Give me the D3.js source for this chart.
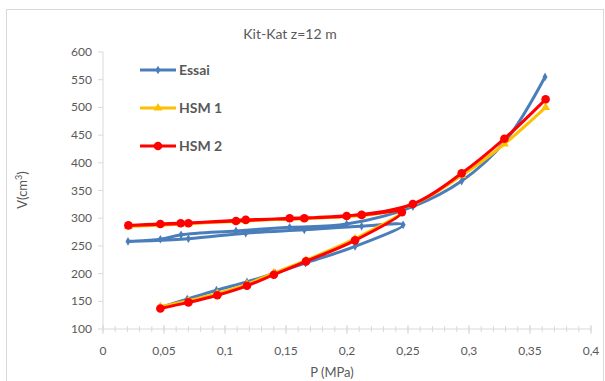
<!DOCTYPE html>
<html>
<head>
<meta charset="utf-8">
<script src="https://cdn.jsdelivr.net/npm/d3@7"></script>
<style>
  body { margin: 0; background: #fff; }
  text { font-family: Lato, "Open Sans", sans-serif; fill: #595959; }
</style>
</head>
<body>
<div id="chart"></div>
<script>
// Essai : loading, unloading, reloading
let essaiP = [0.047, 0.069, 0.093, 0.118, 0.141, 0.166, 0.2066, 0.246,
  0.212, 0.165, 0.117, 0.07, 0.0205,
  0.047, 0.064, 0.109, 0.153, 0.1997, 0.254, 0.294, 0.33, 0.3623]
let essaiV = [139, 154, 170, 185, 201, 219, 249, 288,
  285.5, 279, 273, 263, 258,
  262, 270, 277, 283.5, 289.5, 321, 367, 440, 555]

let hsm1P = [0.047, 0.07, 0.0937, 0.118, 0.14, 0.1664, 0.2066, 0.245,
  0.212, 0.165, 0.117, 0.07, 0.0208,
  0.047, 0.0637, 0.109, 0.153, 0.1997, 0.254, 0.294, 0.329, 0.3628]
let hsm1V = [140, 151, 164, 181, 201, 224, 263, 312,
  305, 299, 296, 290, 285,
  288.5, 290, 294, 299, 303.5, 325, 377, 434, 500]

let hsm2P = [0.047, 0.07, 0.0937, 0.118, 0.14, 0.1664, 0.2066, 0.245,
  0.212, 0.165, 0.117, 0.07, 0.0208,
  0.047, 0.0637, 0.109, 0.153, 0.1997, 0.254, 0.294, 0.329, 0.3628]
let hsm2V = [137, 148, 161, 178, 198, 222, 260, 311,
  306, 300, 297, 291, 287,
  289.6, 291, 295, 300, 304, 325.6, 381, 443.5, 514.6]

let seriesNames = ['Essai', 'HSM 1', 'HSM 2']
let seriesColors = ['#4a7ebb', '#ffc000', '#ff0000']

let xTicks = [0, 0.05, 0.1, 0.15, 0.2, 0.25, 0.3, 0.35, 0.4]
let xMinor = d3.range(0, 0.4001, 0.01)
let yTicks = [100, 150, 200, 250, 300, 350, 400, 450, 500, 550, 600]

let W = 605
let H = 381

let svg = d3
  .select('#chart')
  .append('svg')
  .attr('width', W)
  .attr('height', H)

// chart area border
svg
  .append('rect')
  .attr('x', 6.5)
  .attr('y', 9.5)
  .attr('width', 597)
  .attr('height', 400)
  .attr('fill', 'none')
  .attr('stroke', '#d9d9d9')

let xScale = d3.scaleLinear().domain([0, 0.4]).range([103, 591])
let yScale = d3.scaleLinear().domain([100, 600]).range([329, 52])

let comma = d3.formatLocale({ decimal: ',', thousands: ' ', grouping: [3], currency: ['', ''] })
let fmt = d => comma.format('~g')(d)

// x axis
let xAxis = svg.append('g').attr('transform', 'translate(0,' + yScale(100) + ')')
xAxis
  .append('line')
  .attr('x1', xScale(0))
  .attr('x2', xScale(0.4))
  .attr('stroke', '#d9d9d9')
xAxis
  .selectAll('.minor')
  .data(xMinor)
  .enter()
  .append('line')
  .attr('x1', d => xScale(d))
  .attr('x2', d => xScale(d))
  .attr('y1', -3)
  .attr('y2', 3)
  .attr('stroke', '#d9d9d9')
xAxis
  .selectAll('.major')
  .data(xTicks)
  .enter()
  .append('line')
  .attr('x1', d => xScale(d))
  .attr('x2', d => xScale(d))
  .attr('y1', -4)
  .attr('y2', 5)
  .attr('stroke', '#d9d9d9')
xAxis
  .selectAll('.xlabel')
  .data(xTicks)
  .enter()
  .append('text')
  .attr('x', d => xScale(d))
  .attr('y', 26)
  .attr('text-anchor', 'middle')
  .style('font-size', '12px')
  .text(d => fmt(d))

// y axis
let yAxis = svg.append('g').attr('transform', 'translate(' + xScale(0) + ',0)')
yAxis
  .append('line')
  .attr('y1', yScale(100))
  .attr('y2', yScale(600))
  .attr('stroke', '#d9d9d9')
yAxis
  .selectAll('.ytick')
  .data(yTicks)
  .enter()
  .append('line')
  .attr('x1', -5)
  .attr('x2', 0)
  .attr('y1', d => yScale(d))
  .attr('y2', d => yScale(d))
  .attr('stroke', '#d9d9d9')
yAxis
  .selectAll('.ylabel')
  .data(yTicks)
  .enter()
  .append('text')
  .attr('x', -11)
  .attr('y', d => yScale(d) + 4)
  .attr('text-anchor', 'end')
  .style('font-size', '12px')
  .text(d => d)

// titles
svg
  .append('text')
  .attr('x', 290)
  .attr('y', 39)
  .attr('text-anchor', 'middle')
  .style('font-size', '14px')
  .text('Kit-Kat z=12 m')

svg
  .append('text')
  .attr('x', 332)
  .attr('y', 377)
  .attr('text-anchor', 'middle')
  .style('font-size', '13px')
  .text('P (MPa)')

let yTitle = svg
  .append('text')
  .attr('transform', 'translate(27,190) rotate(-90)')
  .attr('text-anchor', 'middle')
  .style('font-size', '13px')
yTitle.append('tspan').text('V(cm')
yTitle.append('tspan').attr('dy', -5).style('font-size', '9px').text('3')
yTitle.append('tspan').attr('dy', 5).text(')')

let line = d3
  .line()
  .x(d => xScale(d[0]))
  .y(d => yScale(d[1]))
  .curve(d3.curveCatmullRom.alpha(0.5))

let allSeries = [
  d3.zip(essaiP, essaiV),
  d3.zip(hsm1P, hsm1V),
  d3.zip(hsm2P, hsm2V)
]

let diamond = d3.symbol().type(d3.symbolDiamond).size(22)
let triangle = d3.symbol().type(d3.symbolTriangle).size(34)
let markers = [
  g => g.append('path').attr('d', diamond),
  g => g.append('path').attr('d', triangle),
  g => g.append('circle').attr('r', 4.3)
]

allSeries.forEach((pts, i) => {
  svg
    .append('path')
    .datum(pts)
    .attr('d', line)
    .attr('fill', 'none')
    .attr('stroke', seriesColors[i])
    .attr('stroke-width', 3)
    .attr('stroke-linejoin', 'round')

  pts.forEach(p => {
    let g = svg
      .append('g')
      .attr('transform', `translate(${xScale(p[0])},${yScale(p[1])})`)
      .attr('fill', seriesColors[i])
    markers[i](g)
  })
})

// legend
let legend = svg
  .selectAll('.legend')
  .data(seriesNames)
  .enter()
  .append('g')
  .attr('transform', (d, i) => 'translate(140,' + [70, 108, 146][i] + ')')

legend
  .append('line')
  .attr('x1', 0)
  .attr('x2', 36)
  .attr('stroke', (d, i) => seriesColors[i])
  .attr('stroke-width', 3)

legend.each(function (d, i) {
  let g = d3.select(this).append('g').attr('transform', 'translate(18,0)').attr('fill', seriesColors[i])
  markers[i](g)
})

legend
  .append('text')
  .attr('x', 39)
  .attr('y', 5)
  .style('font-size', '14px')
  .style('font-weight', 'bold')
  .text(d => d)
</script>
</body>
</html>
